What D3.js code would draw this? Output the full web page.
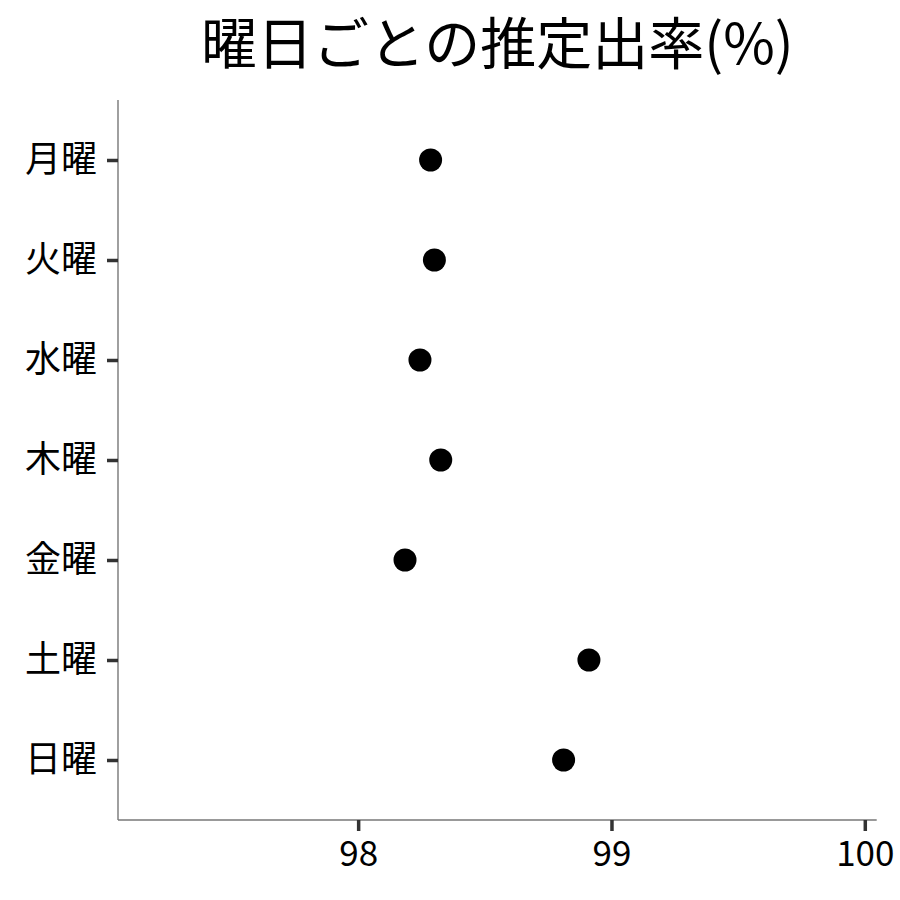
<!DOCTYPE html>
<html>
<head>
<meta charset="utf-8">
<script src="https://cdn.jsdelivr.net/npm/d3@7"></script>
<style>
  html, body { margin: 0; padding: 0; background: #fff; }
  text { font-family: "Noto Sans CJK JP", "Noto Sans", sans-serif; }
</style>
</head>
<body>
<svg id="chart" width="900" height="900"></svg>
<script>
const days = ["月曜", "火曜", "水曜", "木曜", "金曜", "土曜", "日曜"];
const rates = [98.286, 98.301, 98.244, 98.326, 98.185, 98.911, 98.811];
const xTicks = [98, 99, 100];
const titleText = "曜日ごとの推定出率(%)";

const svg = d3.select("#chart");
const pLeft = 118, pRight = 876.7, pTop = 100, pBottom = 820;

const x = d3.scaleLinear().domain([97.052, 100.047]).range([pLeft, pRight]);
const y = d3.scalePoint().domain(days).range([pTop, pBottom]).padding(0.6);

// title
svg.append("text")
  .attr("x", (pLeft + pRight) / 2)
  .attr("y", 64)
  .attr("text-anchor", "middle")
  .attr("font-size", 56)
  .attr("fill", "#000")
  .text(titleText);

// x axis
const gx = svg.append("g").attr("transform", `translate(0,${pBottom})`)
  .call(d3.axisBottom(x).tickValues(xTicks).tickSize(11).tickPadding(10).tickFormat(d3.format("d")));
gx.select(".domain").attr("stroke", "#777").attr("stroke-width", 1.4).attr("d", `M${pLeft},0H${pRight}`);
gx.selectAll(".tick line").attr("stroke", "#333").attr("stroke-width", 3.5);
gx.selectAll(".tick text").attr("font-size", 35).attr("fill", "#000")
  .style("font-family", '"Noto Sans CJK JP", sans-serif');

// y axis
const gy = svg.append("g").attr("transform", `translate(${pLeft},0)`)
  .call(d3.axisLeft(y).tickSize(11).tickPadding(10));
gy.select(".domain").attr("stroke", "#777").attr("stroke-width", 1.4).attr("d", `M0,${pTop}V${pBottom}`);
gy.selectAll(".tick line").attr("stroke", "#333").attr("stroke-width", 3.5);
gy.selectAll(".tick text").attr("font-size", 36).attr("fill", "#000")
  .style("font-family", '"Noto Sans CJK JP", sans-serif');

// points
svg.append("g").selectAll("circle")
  .data(days.map((d, i) => ({ day: d, v: rates[i] })))
  .join("circle")
  .attr("cx", d => x(d.v))
  .attr("cy", d => y(d.day))
  .attr("r", 11.5)
  .attr("fill", "#000");
</script>
</body>
</html>
